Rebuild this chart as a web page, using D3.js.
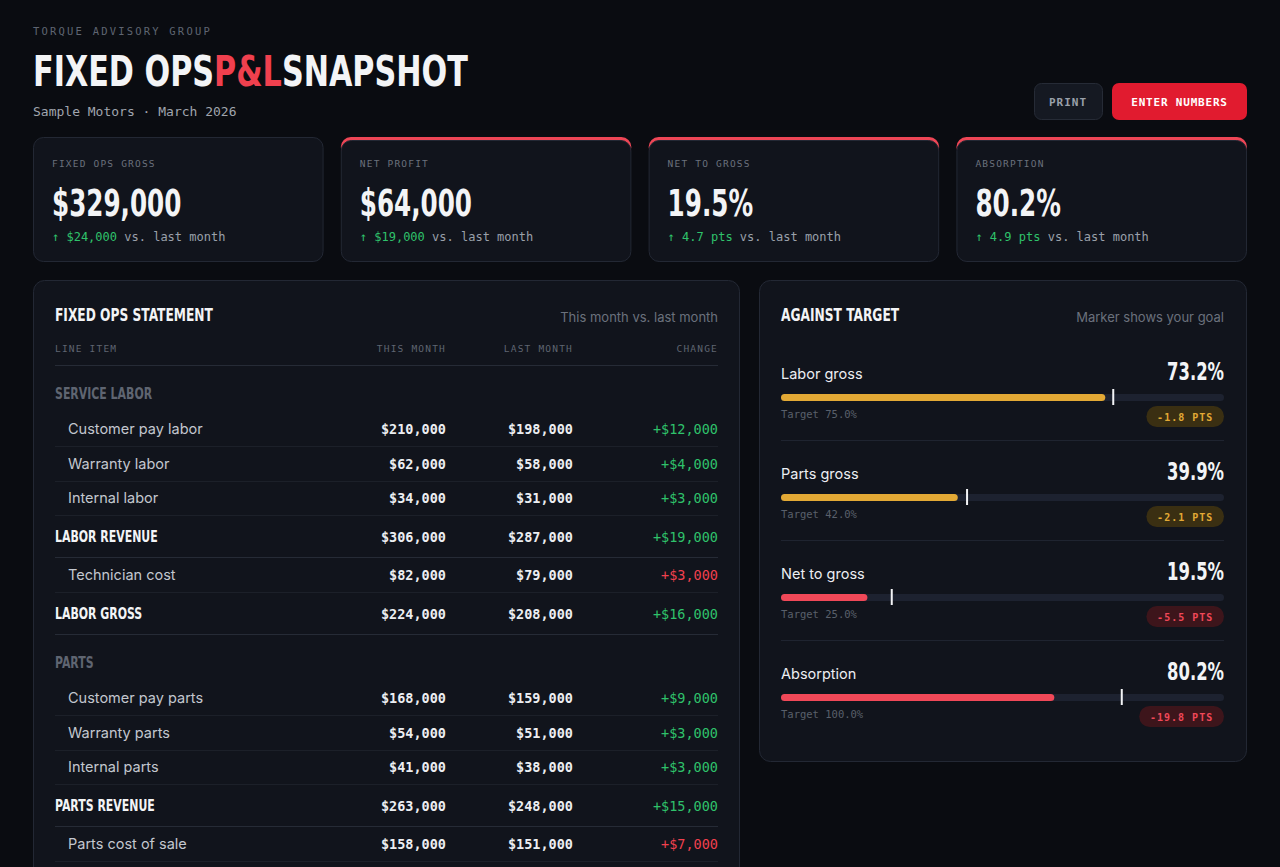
<!DOCTYPE html>
<html><head><meta charset="utf-8">
<script src="https://cdn.jsdelivr.net/npm/d3@7/dist/d3.min.js"></script>
<style>html,body{margin:0;background:#0a0c11;overflow:hidden}</style>
</head><body><svg id="c" width="1280" height="867"></svg>
<script>
const kpiLabels=["FIXED OPS GROSS","NET PROFIT","NET TO GROSS","ABSORPTION"];
const kpiValues=["$329,000","$64,000","19.5%","80.2%"];
const kpiDeltas=["$24,000","$19,000","4.7 pts","4.9 pts"];
const kpiAccent=[false,true,true,true];

const rowLabels=["SERVICE LABOR","Customer pay labor","Warranty labor","Internal labor","LABOR REVENUE","Technician cost","LABOR GROSS","PARTS","Customer pay parts","Warranty parts","Internal parts","PARTS REVENUE","Parts cost of sale"];
const rowTypes=["section","item","item","item","total","item","total","section","item","item","item","total","item"];
const thisMonth=[null,210000,62000,34000,306000,82000,224000,null,168000,54000,41000,263000,158000];
const lastMonth=[null,198000,58000,31000,287000,79000,208000,null,159000,51000,38000,248000,151000];
const costRow=[false,false,false,false,false,true,false,false,false,false,false,false,true];

const targetLabels=["Labor gross","Parts gross","Net to gross","Absorption"];
const actuals=[73.2,39.9,19.5,80.2];
const targets=[75.0,42.0,25.0,100.0];
const scaleMax=[100,100,100,130];
const barColor=["#e3a935","#e3a935","#f04858","#f04858"];

const COND="'DejaVu Sans Condensed','Liberation Sans Narrow',sans-serif";
const MONO="'DejaVu Sans Mono','Liberation Mono',monospace";
const SANS="Inter,'Noto Sans',sans-serif";
const svg=d3.select("#c");
const T=(x,y,s,o={})=>{const t=svg.append("text").attr("x",x).attr("y",y).text(s)
 .attr("font-family",o.f||SANS).attr("font-size",o.s||13).attr("fill",o.c||"#e8eaee")
 .attr("font-weight",o.w||400).attr("text-anchor",o.a||"start");
 if(o.ls)t.attr("letter-spacing",o.ls);
 if(o.k){const L=t.node().getComputedTextLength();t.attr("textLength",L*o.k).attr("lengthAdjust","spacingAndGlyphs");}
 return t;};
const K=0.76;

svg.append("rect").attr("width",1280).attr("height",867).attr("fill","#0a0c11");
T(33,35,"TORQUE ADVISORY GROUP",{f:MONO,s:10.5,c:"#5f6571",ls:2.2});
// title in three pieces, condensed, placed sequentially
let tx=33;
[["FIXED OPS ","#f3f4f6"],["P&L","#f0404e"],[" SNAPSHOT","#f3f4f6"]].forEach(([s,c])=>{
 const t=T(tx,86,s,{f:COND,s:42,w:700,c:c,k:0.8});tx+=+t.attr("textLength");});
T(33,116,"Sample Motors · March 2026",{f:MONO,s:13,c:"#a0a5ae"});

svg.append("rect").attr("x",1034.5).attr("y",83.5).attr("width",68).attr("height",36).attr("rx",7).attr("fill","#151922").attr("stroke","#262b36");
T(1068,106,"PRINT",{f:MONO,s:11,w:700,c:"#9aa0aa",a:"middle",ls:1});
svg.append("rect").attr("x",1112).attr("y",83).attr("width",135).attr("height",37).attr("rx",7).attr("fill","#e11b2f");
T(1179.5,106,"ENTER NUMBERS",{f:MONO,s:11,w:700,c:"#ffffff",a:"middle",ls:0.8});

const kx=d3.scaleBand().domain(d3.range(4)).range([33,1247]).paddingInner(0.056);
kpiLabels.forEach((l,i)=>{const x=kx(i),w=kx.bandwidth();
 if(kpiAccent[i])svg.append("rect").attr("x",x).attr("y",137).attr("width",w).attr("height",20).attr("rx",10).attr("fill","#ee4656");
 svg.append("rect").attr("x",x+0.5).attr("y",kpiAccent[i]?140.5:137.5).attr("width",w-1).attr("height",kpiAccent[i]?121:124).attr("rx",10).attr("fill","#11141c").attr("stroke","#232834");
 T(x+19,167,l,{f:MONO,s:9.5,c:"#6b717c",ls:1.2});
 T(x+19,216,kpiValues[i],{f:COND,s:37,w:700,c:"#f3f4f6",k:0.74});
 const d=T(x+19,241,"",{f:MONO,s:12,c:"#9aa0aa"});
 d.append("tspan").attr("fill","#2fc26b").text("↑ "+kpiDeltas[i]);d.append("tspan").text(" vs. last month");
});

// left panel
svg.append("rect").attr("x",33.5).attr("y",280.5).attr("width",706).attr("height",620).attr("rx",11).attr("fill","#11141c").attr("stroke","#232834");
T(55,321,"FIXED OPS STATEMENT",{f:COND,s:17,w:700,c:"#f3f4f6",k:0.8});
T(718,322,"This month vs. last month",{s:13,c:"#6b717c",a:"end"});
const cols=[446,573,718];
T(55,352,"LINE ITEM",{f:MONO,s:9.5,c:"#5f6571",ls:1.2});
["THIS MONTH","LAST MONTH","CHANGE"].forEach((h,i)=>T(cols[i],352,h,{f:MONO,s:9.5,c:"#5f6571",a:"end",ls:1.2}));
svg.append("line").attr("x1",55).attr("x2",718).attr("y1",365.5).attr("y2",365.5).attr("stroke","#262b36");
const baselines=[399,434,469,503,542,580,619,668,703,738,772,811,849];
const fmt=v=>"$"+d3.format(",")(v);
rowLabels.forEach((l,i)=>{const y=baselines[i],t=rowTypes[i];
 if(t==="section"){T(55,y,l,{f:COND,s:16,w:700,c:"#5f6571",k:K});return;}
 if(t==="total")T(55,y,l,{f:COND,s:16,w:700,c:"#f3f4f6",k:K});
 else T(68,y,l,{s:14.5,c:"#c3c7cf"});
 T(cols[0],y,fmt(thisMonth[i]),{f:MONO,s:13.5,w:700,c:"#eceef2",a:"end"});
 T(cols[1],y,fmt(lastMonth[i]),{f:MONO,s:13.5,w:700,c:"#eceef2",a:"end"});
 const ch=thisMonth[i]-lastMonth[i];
 T(cols[2],y,(ch>=0?"+":"-")+fmt(Math.abs(ch)),{f:MONO,s:13.5,c:costRow[i]?"#f0404e":"#2fc26b",a:"end"});
 const ly=y+(t==="total"?15.5:12.5);
 svg.append("line").attr("x1",55).attr("x2",718).attr("y1",ly).attr("y2",ly).attr("stroke",t==="total"?"#262b36":"#1c2029");
});

// right panel
svg.append("rect").attr("x",759.5).attr("y",280.5).attr("width",487).attr("height",481).attr("rx",11).attr("fill","#11141c").attr("stroke","#232834");
T(781,321,"AGAINST TARGET",{f:COND,s:17,w:700,c:"#f3f4f6",k:0.8});
T(1224,322,"Marker shows your goal",{s:13,c:"#6b717c",a:"end"});
targetLabels.forEach((l,i)=>{const y0=i*100;
 const x=d3.scaleLinear().domain([0,scaleMax[i]]).range([781,1224]);
 T(781,379+y0,l,{s:14.5,c:"#eceef2"});
 T(1224,380+y0,actuals[i].toFixed(1)+"%",{f:COND,s:24,w:700,c:"#f3f4f6",a:"end",k:K});
 svg.append("rect").attr("x",x(0)).attr("y",394+y0).attr("width",x(scaleMax[i])-x(0)).attr("height",7).attr("rx",3.5).attr("fill","#1d2230");
 svg.append("rect").attr("x",x(0)).attr("y",394+y0).attr("width",x(actuals[i])-x(0)).attr("height",7).attr("rx",3.5).attr("fill",barColor[i]);
 svg.append("rect").attr("x",x(targets[i])-1).attr("y",389+y0).attr("width",2).attr("height",16).attr("fill","#f3f4f6");
 T(781,418+y0,"Target "+targets[i].toFixed(1)+"%",{f:MONO,s:10.5,c:"#5a606b"});
 const gap=actuals[i]-targets[i],bt=gap.toFixed(1)+" PTS",bw=bt.length*7.2+20;
 const yel=i<2;
 svg.append("rect").attr("x",1224-bw).attr("y",406+y0).attr("width",bw).attr("height",21).attr("rx",10.5).attr("fill",yel?"#3a2f12":"#3d151b");
 T(1224-bw/2,420.5+y0,bt,{f:MONO,s:10,w:700,c:yel?"#e3a935":"#f04858",a:"middle",ls:1});
 if(i<3)svg.append("line").attr("x1",781).attr("x2",1224).attr("y1",440.5+y0).attr("y2",440.5+y0).attr("stroke","#1f2430");
});
</script></body></html>
